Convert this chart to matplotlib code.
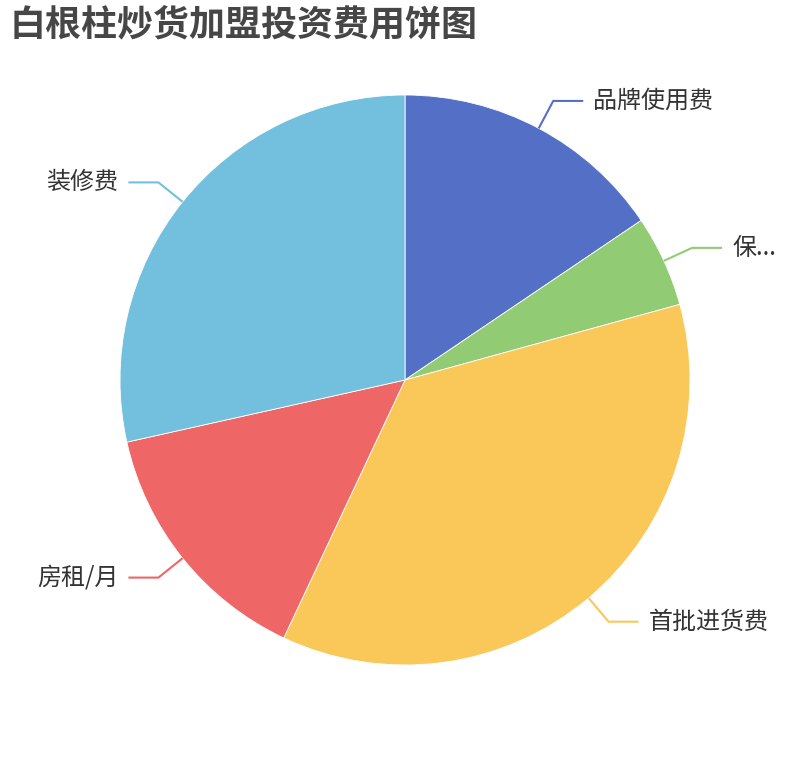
import numpy as np
import matplotlib
matplotlib.use('Agg')
import matplotlib.pyplot as plt

plt.rcParams['font.family'] = ['Noto Sans CJK SC', 'DejaVu Sans']

# 费用（万元，从图中估读）
labels = ['品牌使用费', '保...', '首批进货费', '房租/月', '装修费']
values = [3.0, 1.0, 7.0, 2.8, 5.5]
colors = ['#5470c6', '#91cc75', '#fac858', '#ee6666', '#73c0de']

W, H = 810, 760
fig = plt.figure(figsize=(W / 100, H / 100), dpi=100)
ax = fig.add_axes([0, 0, 1, 1])
ax.set_xlim(0, W)
ax.set_ylim(0, H)
ax.set_aspect('equal')
ax.axis('off')

cx, cy, r = 405, 380, 285
wedges, _ = ax.pie(values, colors=colors, startangle=90, counterclock=False,
                   center=(cx, cy), radius=r,
                   wedgeprops=dict(edgecolor='white', linewidth=0.6))
ax.set_xlim(0, W)
ax.set_ylim(0, H)

len1, len2, gap = 31, 30, 10
for w, lab, col in zip(wedges, labels, colors):
    mid = np.deg2rad((w.theta1 + w.theta2) / 2)
    x0, y0 = cx + r * np.cos(mid), cy + r * np.sin(mid)
    x1, y1 = cx + (r + len1) * np.cos(mid), cy + (r + len1) * np.sin(mid)
    side = 1 if np.cos(mid) >= 0 else -1
    x2 = x1 + side * len2
    ax.plot([x0, x1, x2], [y0, y1, y1], color=col, lw=1.5,
            solid_capstyle='butt', clip_on=False)
    ax.text(x2 + side * gap, y1, lab, fontsize=17.3, color='#333333',
            ha='left' if side > 0 else 'right', va='center')

fig.text(10 / W, 1 - 26 / H, '白根柱炒货加盟投资费用饼图', fontsize=25.9,
         fontweight='bold', color='#464646', ha='left', va='center')

fig.savefig('out.png', dpi=100)
